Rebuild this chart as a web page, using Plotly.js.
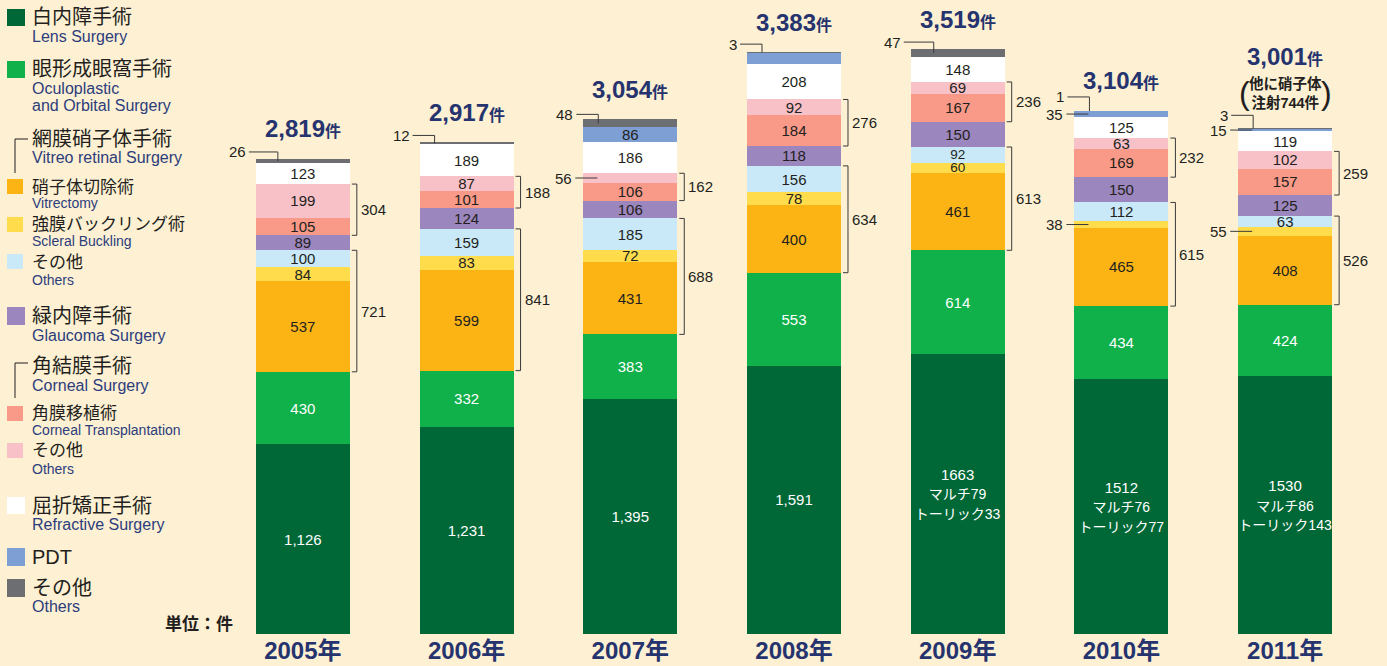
<!DOCTYPE html>
<html><head><meta charset="utf-8">
<script src="https://cdn.plot.ly/plotly-3.0.1.min.js"></script>
<style>html,body{margin:0;padding:0;background:#fdf0d3;}#chart{width:1387px;height:666px;}</style>
</head><body><div id="chart"></div>
<script>
// ---------------- DATA ----------------
const years = ['2005年','2006年','2007年','2008年','2009年','2010年','2011年'];
const lens         = [1126,1231,1395,1591,1663,1512,1530];
const lensLabels   = ['1,126','1,231','1,395','1,591','1663<br>マルチ79<br>トーリック33','1512<br>マルチ76<br>トーリック77','1530<br>マルチ86<br>トーリック143'];
const oculo        = [430,332,383,553,614,434,424];
const vitrectomy   = [537,599,431,400,461,465,408];
const scleral      = [84,83,72,78,60,38,55];
const vitreoOther  = [100,159,185,156,92,112,63];
const glaucoma     = [89,124,106,118,150,150,125];
const cornealTrans = [105,101,106,184,167,169,157];
const cornealOther = [199,87,56,92,69,63,102];
const refractive   = [123,189,186,208,148,125,119];
const pdt          = [0,0,86,70,0,35,15];
const others       = [26,12,48,3,47,1,3];
const totals       = [2819,2917,3054,3383,3519,3104,3001];
const note2011     = '他に硝子体<br>注射744件';
const unitLabel    = '単位：件';

const legendJa = ['白内障手術','眼形成眼窩手術','網膜硝子体手術','硝子体切除術','強膜バックリング術','その他','緑内障手術','角結膜手術','角膜移植術','その他','屈折矯正手術','PDT','その他'];
const legendEn = [['Lens Surgery'],['Oculoplastic','and Orbital Surgery'],['Vitreo retinal Surgery'],['Vitrectomy'],['Scleral Buckling'],['Others'],['Glaucoma Surgery'],['Corneal Surgery'],['Corneal Transplantation'],['Others'],['Refractive Surgery'],[],['Others']];

// ---------------- STYLE ----------------
const FONT = 'Liberation Sans, Noto Sans CJK JP, sans-serif';
const DARK = '#231f20', NAVY = '#25336e', LEGEN = '#2c3d7c', BG = '#fdf0d3';
const fmtLens = t => t.split('<br>').map((l, n) => n === 0 ? l : '<span style="font-size:14px">' + l + '</span>').join('<br>');
const series = [
  {vals:lens,         color:'#006837', txt:'#ffffff', labels:lensLabels.map(fmtLens)},
  {vals:oculo,        color:'#10b04b', txt:'#ffffff'},
  {vals:vitrectomy,   color:'#fcb415', txt:DARK},
  {vals:scleral,      color:'#ffdc4c', txt:DARK},
  {vals:vitreoOther,  color:'#c9e9f8', txt:DARK},
  {vals:glaucoma,     color:'#9c86be', txt:DARK},
  {vals:cornealTrans, color:'#f89a87', txt:DARK},
  {vals:cornealOther, color:'#f8c0c7', txt:DARK},
  {vals:refractive,   color:'#ffffff', txt:DARK},
  {vals:pdt,          color:'#7d9fd4', txt:DARK},
  {vals:others,       color:'#6d6e71', txt:DARK}
];
const S = {lens:0,oculo:1,vitrectomy:2,scleral:3,vitreoOther:4,glaucoma:5,cornealTrans:6,cornealOther:7,refractive:8,pdt:9,others:10};
// labels drawn outside the bar with a leader line
const callouts = [
  {y:0,s:'others',kind:'elbow'},{y:1,s:'others',kind:'elbow'},{y:2,s:'others',kind:'elbow'},
  {y:2,s:'cornealOther',kind:'side'},{y:3,s:'others',kind:'elbow'},{y:4,s:'others',kind:'elbow'},
  {y:5,s:'others',kind:'elbow'},{y:5,s:'pdt',kind:'side'},{y:5,s:'scleral',kind:'side'},
  {y:6,s:'others',kind:'elbow'},{y:6,s:'pdt',kind:'side'},{y:6,s:'scleral',kind:'side'}
];
const unlabeled = [{y:3,s:'pdt'}];
const smallText = [{y:4,s:'scleral'},{y:4,s:'vitreoOther'}];
const elbowLift = [7,7,5,8,7,14,13];
const elbowX    = [22,15,15,15,23,15,15];

const M = {l:221, r:20, t:10, b:32};
const W = 1387, H = 666;
const plotW = W - M.l - M.r, plotH = H - M.t - M.b;
const YMAX = 3703;
const xpp = 7 / plotW, ypp = YMAX / plotH;
const HALF = 0.287;
const xIdx = years.map((_, i) => i);

// cumulative bases
const base = xIdx.map(i => { let c = 0; return series.map(s => { const b = c; c += s.vals[i]; return b; }); });
const barTop = xIdx.map(i => base[i][series.length-1] + series[series.length-1].vals[i]);

const inList = (list,i,k) => list.some(c => c.y===i && S[c.s]===k);
const isOut = (i,k) => inList(callouts,i,k) || inList(unlabeled,i,k);

const traces = series.map((s, k) => ({
  type:'bar', x:xIdx, y:s.vals, width:HALF*2,
  marker:{color:s.color, line:{width:0}},
  text: s.vals.map((v,i) => (v===0 || isOut(i,k)) ? '' : (s.labels ? s.labels[i] : String(v))),
  textposition:'inside', insidetextanchor:'middle', constraintext:'none', textangle:0,
  textfont:{size:xIdx.map(i => inList(smallText,i,k) ? 13.5 : 15), color:s.txt, family:FONT},
  hoverinfo:'skip'
}));

const annotations = [], shapes = [];
const LINE = {color:'#3a3a3a', width:1};

// totals
xIdx.forEach(i => {
  annotations.push({x:i, y:barTop[i], yshift:(i===6?72:30), yanchor:'middle', showarrow:false,
    text:'<b>'+totals[i].toLocaleString('en-US')+'</b><b><span style="font-size:16px">件</span></b>',
    font:{size:24, color:NAVY, family:FONT}});
});
// 2011 note
annotations.push({x:6, y:barTop[6], yshift:35, yanchor:'middle', showarrow:false, text:'<b>'+note2011+'</b>',
  font:{size:14.5, color:DARK, family:FONT}});
annotations.push({x:6, xshift:-41, y:barTop[6], yshift:35, yanchor:'middle', showarrow:false, text:'(', font:{size:32, color:DARK, family:'DejaVu Sans ExtraLight, Liberation Sans'}});
annotations.push({x:6, xshift:41, y:barTop[6], yshift:35, yanchor:'middle', showarrow:false, text:')', font:{size:32, color:DARK, family:'DejaVu Sans ExtraLight, Liberation Sans'}});

// brackets
const groups = [[S.cornealTrans, S.cornealOther],[S.vitrectomy, S.vitreoOther]];
xIdx.forEach(i => {
  groups.forEach(([a,b]) => {
    const y0 = base[i][a], y1 = base[i][b] + series[b].vals[i];
    let sum = 0; for (let k=a;k<=b;k++) sum += series[k].vals[i];
    const xa = i + HALF + 2*xpp, xb = i + HALF + 7*xpp;
    shapes.push({type:'path', xref:'x', yref:'y', path:`M${xa},${y0} L${xb},${y0} L${xb},${y1} L${xa},${y1}`, line:LINE});
    annotations.push({x:i + HALF + 9*xpp, xanchor:'left', y:(y0+y1)/2, yanchor:'middle', showarrow:false,
      text:String(sum), font:{size:15, color:DARK, family:FONT}});
  });
});

// callouts
callouts.forEach(c => {
  const i = c.y, k = S[c.s], v = series[k].vals[i];
  const mid = base[i][k] + v/2;
  const left = i - HALF;
  if (c.kind === 'side') {
    shapes.push({type:'line', xref:'x', yref:'y', x0:left-8*xpp, x1:left+14*xpp, y0:mid, y1:mid, line:LINE});
    annotations.push({x:left-9*xpp, xanchor:'right', y:mid, yanchor:'middle', showarrow:false, text:String(v), font:{size:15,color:DARK,family:FONT}});
  } else {
    const ly = barTop[i] + elbowLift[i]*ypp;
    const ex = left + elbowX[i]*xpp;
    shapes.push({type:'path', xref:'x', yref:'y', path:`M${left-7*xpp},${ly} L${ex},${ly} L${ex},${mid}`, line:LINE});
    annotations.push({x:left-8*xpp, xanchor:'right', y:ly, yanchor:'middle', showarrow:false, text:String(v), font:{size:15,color:DARK,family:FONT}});
  }
});

// legend (paper coords from pixel positions)
const px = p => (p - M.l) / plotW, py = p => (H - M.b - p) / plotH;
const legColors = [series[0].color, series[1].color, null, series[2].color, series[3].color, series[4].color, series[5].color, null, series[6].color, series[7].color, series[8].color, series[9].color, series[10].color];
const legMain   = [true,true,true,false,false,false,true,true,false,false,true,true,true];
const legJaY    = [17.5,69,139,187,224,262,316,366,414,451,506,557,588];
const legSq     = [[9,26],[61,78],null,[179,194],[217,232],[254,269],[307,325],null,[406,421],[443,458],[497,514],[548,566],[579,597]];
const legEnY    = [[37],[88,105],[157],[203],[241],[280],[336],[385],[430],[469],[524],[],[606]];
legendJa.forEach((ja, j) => {
  annotations.push({xref:'paper', yref:'paper', x:px(30), y:py(legJaY[j]), xanchor:'left', yanchor:'middle', showarrow:false,
    text:ja, font:{size: legMain[j]?20:17, color:DARK, family:FONT}});
  legendEn[j].forEach((en, n) => {
    annotations.push({xref:'paper', yref:'paper', x:px(30), y:py(legEnY[j][n]), xanchor:'left', yanchor:'middle', showarrow:false,
      text:en, font:{size: legMain[j]?16:14, color:LEGEN, family:FONT}});
  });
  if (legSq[j]) {
    const x1 = legMain[j] ? 25 : 23;
    shapes.push({type:'rect', xref:'paper', yref:'paper', x0:px(7), x1:px(x1), y0:py(legSq[j][0]), y1:py(legSq[j][1]),
      fillcolor:legColors[j], line:{width:0}});
  }
});
[[139,173],[363,398]].forEach(([a,b]) => {
  shapes.push({type:'path', xref:'paper', yref:'paper', path:`M${px(28)},${py(a)} L${px(15)},${py(a)} L${px(15)},${py(b)}`, line:{color:DARK,width:1}});
});
annotations.push({xref:'paper', yref:'paper', x:px(199), y:py(624), xanchor:'center', yanchor:'middle', showarrow:false,
  text:'<b>'+unitLabel+'</b>', font:{size:17, color:DARK, family:FONT}});

const layout = {
  width:W, height:H, margin:M, paper_bgcolor:BG, plot_bgcolor:BG,
  barmode:'stack', showlegend:false, font:{family:FONT},
  xaxis:{range:[-0.5,6.5], tickvals:xIdx, ticktext:years.map(t=>'<b>'+t+'</b>'), showgrid:false, zeroline:false, showline:false,
    ticks:'', tickfont:{size:24, color:NAVY, family:FONT}, fixedrange:true},
  yaxis:{range:[0,YMAX], visible:false, fixedrange:true},
  annotations, shapes
};
Plotly.newPlot('chart', traces, layout, {staticPlot:true, displayModeBar:false});
</script></body></html>
